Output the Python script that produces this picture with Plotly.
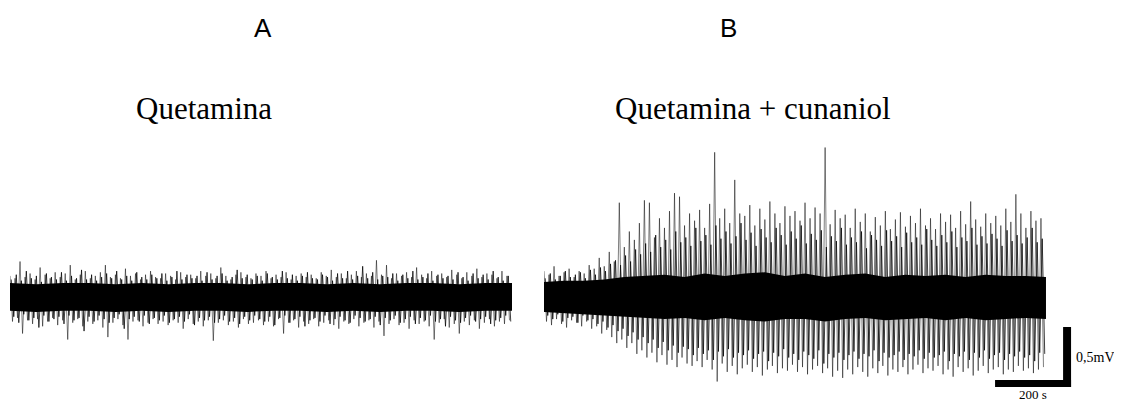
import numpy as np
import plotly.graph_objects as go

# ---------------- data (mV) ----------------
duration_s = 1321  # length of each recording shown

# Panel A: Quetamina - large positive / negative peaks (mV)
a_up = [0.18,0.16,0.30,0.17,0.20,0.15,0.25,0.19,0.16,0.21,
        0.17,0.20,0.27,0.15,0.19,0.22,0.16,0.18,0.21,0.27,
        0.17,0.19,0.16,0.24,0.18,0.20,0.15,0.19,0.22,0.17,
        0.16,0.20,0.18,0.15,0.21,0.17,0.19,0.16,0.22,0.18,
        0.20,0.16,0.25,0.18,0.15,0.19,0.21,0.17,0.16,0.20,
        0.18,0.22,0.16,0.19,0.17,0.21,0.15,0.18,0.20,0.17,
        0.19,0.16,0.21,0.18,0.23,0.17,0.20,0.16,0.19,0.22,
        0.17,0.20,0.18,0.31,0.19,0.27,0.16,0.20,0.18,0.21,
        0.17,0.25,0.19,0.16,0.22,0.18,0.20,0.17,0.23,0.19,
        0.16,0.21,0.18,0.24,0.17,0.20,0.19,0.16,0.22,0.18]
a_dn = [-0.20,-0.17,-0.30,-0.19,-0.22,-0.18,-0.24,-0.20,-0.17,-0.23,
        -0.19,-0.35,-0.21,-0.18,-0.24,-0.20,-0.22,-0.19,-0.25,-0.33,
        -0.21,-0.18,-0.23,-0.35,-0.20,-0.19,-0.24,-0.21,-0.18,-0.22,
        -0.20,-0.23,-0.19,-0.21,-0.26,-0.18,-0.22,-0.20,-0.24,-0.19,
        -0.36,-0.21,-0.19,-0.23,-0.20,-0.25,-0.18,-0.22,-0.21,-0.19,
        -0.23,-0.20,-0.24,-0.18,-0.30,-0.21,-0.19,-0.25,-0.20,-0.22,
        -0.18,-0.24,-0.21,-0.19,-0.23,-0.26,-0.20,-0.22,-0.18,-0.24,
        -0.21,-0.19,-0.25,-0.20,-0.32,-0.22,-0.18,-0.23,-0.21,-0.26,
        -0.19,-0.22,-0.20,-0.24,-0.35,-0.21,-0.18,-0.25,-0.22,-0.30,
        -0.20,-0.23,-0.19,-0.26,-0.21,-0.18,-0.24,-0.20,-0.22,-0.19]
# Panel A: intermediate peaks between the large ones
a_up2 = [0.15,0.19,0.14,0.22,0.16,0.18,0.13,0.20,0.17,0.15,
         0.21,0.14,0.18,0.16,0.23,0.15,0.19,0.14,0.17,0.20,
         0.16,0.22,0.15,0.18,0.14,0.21,0.17,0.15,0.19,0.16,
         0.20,0.14,0.17,0.22,0.15,0.19,0.16,0.18,0.14,0.21,
         0.15,0.18,0.20,0.14,0.17,0.23,0.16,0.19,0.15,0.18,
         0.14,0.20,0.17,0.15,0.22,0.16,0.19,0.14,0.18,0.21,
         0.16,0.15,0.19,0.17,0.14,0.20,0.16,0.22,0.15,0.18,
         0.26,0.16,0.21,0.15,0.18,0.17,0.20,0.14,0.19,0.16,
         0.22,0.15,0.17,0.20,0.14,0.19,0.16,0.18,0.15,0.21,
         0.17,0.14,0.20,0.16,0.19,0.15,0.22,0.17,0.14,0.18]
a_dn2 = [-0.16,-0.21,-0.14,-0.19,-0.17,-0.25,-0.15,-0.20,-0.18,-0.16,
         -0.22,-0.15,-0.19,-0.17,-0.28,-0.16,-0.20,-0.15,-0.18,-0.21,
         -0.17,-0.14,-0.26,-0.18,-0.16,-0.20,-0.15,-0.22,-0.17,-0.19,
         -0.15,-0.21,-0.18,-0.16,-0.20,-0.14,-0.23,-0.17,-0.19,-0.16,
         -0.21,-0.18,-0.15,-0.20,-0.17,-0.22,-0.16,-0.19,-0.15,-0.18,
         -0.20,-0.16,-0.23,-0.17,-0.15,-0.21,-0.18,-0.16,-0.24,-0.19,
         -0.17,-0.20,-0.15,-0.22,-0.18,-0.16,-0.19,-0.21,-0.15,-0.17,
         -0.20,-0.18,-0.16,-0.23,-0.17,-0.19,-0.15,-0.21,-0.18,-0.16,
         -0.22,-0.17,-0.19,-0.15,-0.20,-0.18,-0.24,-0.16,-0.19,-0.21,
         -0.17,-0.15,-0.20,-0.18,-0.16,-0.22,-0.19,-0.17,-0.15,-0.20]
a_core_up = [0.12,0.11,0.12,0.12,0.11,0.12,0.11,0.12,0.12,0.11,0.12,0.12,0.11,
             0.12,0.11,0.12,0.12,0.11,0.12,0.12]
a_core_dn = [-0.11,-0.12,-0.11,-0.11,-0.12,-0.11,-0.12,-0.11,-0.11,-0.12,-0.11,-0.11,
             -0.12,-0.11,-0.12,-0.11,-0.11,-0.12,-0.11,-0.11]

# Panel B: Quetamina + cunaniol - large peaks
b_up = [0.22,0.19,0.26,0.18,0.21,0.24,0.17,0.22,0.20,0.27,
        0.24,0.33,0.26,0.38,0.30,0.79,0.42,0.55,0.48,0.62,
        0.81,0.79,0.50,0.66,0.58,0.72,0.87,0.84,0.60,0.70,
        0.64,0.73,0.58,0.78,1.21,0.66,0.74,0.62,0.98,0.70,
        0.68,0.77,0.60,0.74,0.65,0.80,0.70,0.62,0.76,0.68,
        0.72,0.64,0.79,0.66,0.75,0.70,1.25,0.61,0.73,0.66,
        0.69,0.58,0.74,0.63,0.70,0.55,0.67,0.60,0.72,0.57,
        0.65,0.71,0.59,0.68,0.62,0.74,0.60,0.66,0.57,0.70,
        0.63,0.69,0.58,0.72,0.61,0.80,0.65,0.59,0.70,0.62,
        0.68,0.60,0.74,0.63,0.86,0.70,0.58,0.72,0.64,0.66]
b_dn = [-0.20,-0.23,-0.18,-0.22,-0.25,-0.19,-0.21,-0.24,-0.20,-0.26,
        -0.24,-0.30,-0.27,-0.33,-0.38,-0.35,-0.42,-0.38,-0.47,-0.44,
        -0.50,-0.46,-0.54,-0.48,-0.56,-0.52,-0.58,-0.50,-0.55,-0.57,
        -0.53,-0.58,-0.52,-0.60,-0.70,-0.55,-0.62,-0.57,-0.64,-0.59,
        -0.56,-0.62,-0.58,-0.65,-0.60,-0.57,-0.63,-0.59,-0.61,-0.56,
        -0.62,-0.58,-0.64,-0.60,-0.57,-0.63,-0.59,-0.66,-0.61,-0.67,
        -0.60,-0.64,-0.58,-0.62,-0.66,-0.59,-0.63,-0.57,-0.65,-0.60,
        -0.62,-0.58,-0.64,-0.60,-0.56,-0.63,-0.59,-0.61,-0.57,-0.64,
        -0.60,-0.66,-0.58,-0.62,-0.59,-0.65,-0.61,-0.57,-0.63,-0.60,
        -0.58,-0.64,-0.60,-0.62,-0.57,-0.61,-0.59,-0.63,-0.60,-0.58]
# Panel B: intermediate peaks
b_up2 = [0.16,0.20,0.15,0.18,0.22,0.17,0.19,0.21,0.16,0.23,
         0.19,0.25,0.22,0.28,0.31,0.27,0.35,0.30,0.40,0.36,
         0.45,0.38,0.52,0.42,0.48,0.40,0.55,0.46,0.50,0.43,
         0.58,0.47,0.52,0.44,0.60,0.49,0.55,0.45,0.51,0.62,
         0.48,0.54,0.43,0.57,0.50,0.46,0.58,0.52,0.44,0.55,
         0.49,0.60,0.45,0.53,0.48,0.56,0.42,0.51,0.47,0.58,
         0.44,0.50,0.46,0.55,0.41,0.52,0.48,0.43,0.56,0.47,
         0.51,0.42,0.54,0.46,0.50,0.44,0.57,0.48,0.43,0.52,
         0.46,0.55,0.42,0.50,0.47,0.58,0.44,0.51,0.45,0.53,
         0.49,0.43,0.56,0.47,0.52,0.45,0.50,0.58,0.46,0.49]
b_dn2 = [-0.15,-0.18,-0.14,-0.20,-0.17,-0.16,-0.21,-0.15,-0.19,-0.18,
         -0.22,-0.20,-0.25,-0.23,-0.28,-0.26,-0.32,-0.29,-0.35,-0.33,
         -0.38,-0.35,-0.42,-0.37,-0.44,-0.40,-0.46,-0.41,-0.43,-0.48,
         -0.42,-0.47,-0.44,-0.52,-0.45,-0.49,-0.43,-0.50,-0.46,-0.48,
         -0.44,-0.51,-0.47,-0.45,-0.53,-0.46,-0.49,-0.43,-0.50,-0.47,
         -0.52,-0.45,-0.48,-0.51,-0.44,-0.55,-0.47,-0.50,-0.46,-0.52,
         -0.48,-0.45,-0.51,-0.47,-0.49,-0.44,-0.53,-0.46,-0.50,-0.48,
         -0.45,-0.52,-0.47,-0.49,-0.44,-0.51,-0.46,-0.50,-0.48,-0.45,
         -0.53,-0.47,-0.49,-0.45,-0.52,-0.46,-0.50,-0.44,-0.51,-0.48,
         -0.46,-0.52,-0.47,-0.49,-0.45,-0.50,-0.48,-0.53,-0.46,-0.47]
b_core_up = [0.13,0.14,0.14,0.15,0.17,0.18,0.19,0.17,0.20,0.18,0.20,0.21,0.18,
             0.20,0.17,0.19,0.20,0.17,0.19,0.18,0.19,0.17,0.19,0.18,0.18,0.17]
b_core_dn = [-0.12,-0.13,-0.14,-0.15,-0.16,-0.17,-0.18,-0.17,-0.19,-0.17,-0.19,-0.20,
             -0.18,-0.18,-0.20,-0.18,-0.17,-0.19,-0.18,-0.17,-0.19,-0.17,-0.19,-0.18,
             -0.17,-0.18]

# text
panel_letters = ["A", "B"]
panel_titles = ["Quetamina", "Quetamina + cunaniol"]
scale_time_s = 200
scale_mv = 0.5
scale_labels = ["0,5mV", "200 s"]

# ---------------- build ----------------
def zigzag(up, dn, phase):
    y = np.empty(len(up) * 2)
    y[0::2] = up
    y[1::2] = dn
    t = (np.arange(len(y)) + phase) * duration_s / len(y)
    return t, y

def band(cu, cd):
    t = np.linspace(0, duration_s, len(cu))
    return np.concatenate([t, t[::-1]]), np.concatenate([cu, cd[::-1]])

fig = go.Figure()
panels = [(a_up, a_dn, a_up2, a_dn2, a_core_up, a_core_dn, "x", "y"),
          (b_up, b_dn, b_up2, b_dn2, b_core_up, b_core_dn, "x2", "y2")]
for (up, dn, up2, dn2, cu, cd, xa, ya) in panels:
    bx, by = band(np.array(cu), np.array(cd))
    fig.add_trace(go.Scatter(x=bx, y=by, fill="toself", fillcolor="black",
                             line=dict(width=0), mode="lines", xaxis=xa, yaxis=ya,
                             hoverinfo="skip", showlegend=False))
    zx, zy = zigzag(up, dn, 0.0)
    fig.add_trace(go.Scatter(x=zx, y=zy, mode="lines",
                             line=dict(color="rgba(0,0,0,0.5)", width=1),
                             xaxis=xa, yaxis=ya, showlegend=False))
    zx2, zy2 = zigzag(up2, dn2, 0.5)
    fig.add_trace(go.Scatter(x=zx2, y=zy2, mode="lines",
                             line=dict(color="rgba(0,0,0,0.75)", width=1),
                             xaxis=xa, yaxis=ya, showlegend=False))

OFF = 8                       # page margin of the browser around the plot
W, H = 1122 - OFF, 402 - OFF
px_per_s = 76 / 200
px_per_mv = 120
ymin = -(H - (297.5 - OFF)) / px_per_mv
yrange = [ymin, ymin + H / px_per_mv]

xa_dom = [(10 - OFF) / W, (512 - OFF) / W]
xb_dom = [(544 - OFF) / W, 1.0]
xb_max = (W - (544 - OFF)) / px_per_s

ax_common = dict(visible=False, showgrid=False, zeroline=False, fixedrange=True)
fig.update_layout(
    width=W, height=H, margin=dict(l=0, r=0, t=0, b=0),
    paper_bgcolor="white", plot_bgcolor="white",
    xaxis=dict(domain=xa_dom, range=[0, duration_s], anchor="y", **ax_common),
    yaxis=dict(domain=[0, 1], range=yrange, anchor="x", **ax_common),
    xaxis2=dict(domain=xb_dom, range=[0, xb_max], anchor="y2", **ax_common),
    yaxis2=dict(domain=[0, 1], range=yrange, anchor="x2", **ax_common),
)

# scale bar (in panel B data units)
corner_t = 1387
corner_v = -0.746
bar_h_thick = 0.058
bar_v_thick = 21
fig.add_shape(type="rect", xref="x2", yref="y2", x0=corner_t - scale_time_s, x1=corner_t,
              y0=corner_v, y1=corner_v + bar_h_thick, fillcolor="black", line_width=0)
fig.add_shape(type="rect", xref="x2", yref="y2", x0=corner_t - bar_v_thick, x1=corner_t,
              y0=corner_v, y1=corner_v + scale_mv, fillcolor="black", line_width=0)

def py(p):  # reference pixel row -> paper y
    return 1 - (p - OFF) / H

def px(p):  # reference pixel column -> paper x
    return (p - OFF) / W

serif = "Liberation Serif, Times New Roman, serif"
sans = "Liberation Sans, Arial, sans-serif"
fig.add_annotation(x=corner_t + 8, y=corner_v + scale_mv * 0.5, xref="x2", yref="y2",
                   text=scale_labels[0], showarrow=False, xanchor="left", yanchor="middle",
                   font=dict(family=serif, size=14, color="black"))
fig.add_annotation(x=corner_t - scale_time_s / 2, y=py(394), xref="x2", yref="paper",
                   text=scale_labels[1], showarrow=False, xanchor="center", yanchor="middle",
                   font=dict(family=serif, size=13, color="black"))

for cx, letter in zip([263, 728], panel_letters):
    fig.add_annotation(x=px(cx), y=py(28), xref="paper", yref="paper", text=letter,
                       showarrow=False, xanchor="center", yanchor="middle",
                       font=dict(family=sans, size=26, color="black"))
for cx, title in zip([203.5, 752.5], panel_titles):
    fig.add_annotation(x=px(cx), y=py(109), xref="paper", yref="paper", text=title,
                       showarrow=False, xanchor="center", yanchor="middle",
                       font=dict(family=serif, size=31, color="black"))

fig.write_html("out.html")
